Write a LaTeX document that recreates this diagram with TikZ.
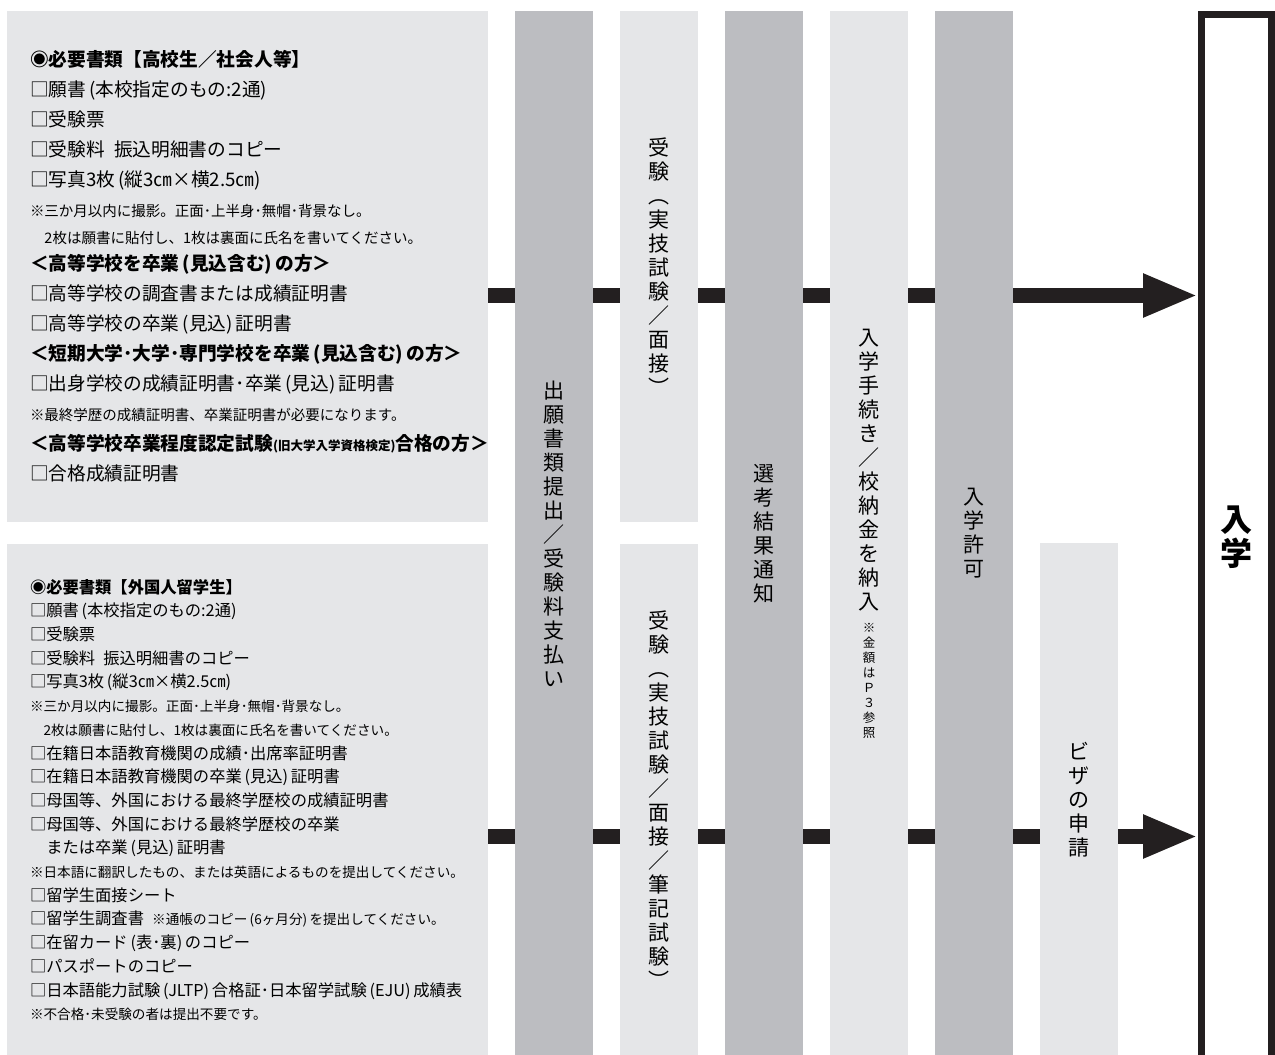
\documentclass[tikz,border=0pt]{standalone}
\usepackage{fontspec}
\setmainfont{Noto Sans CJK JP}
\usepackage{tikz}
\usetikzlibrary{arrows.meta}
\usetikzlibrary{positioning,backgrounds}
\definecolor{ink}{RGB}{35,31,32}
\definecolor{colgray}{RGB}{188,189,193}
\definecolor{boxgray}{RGB}{229,230,232}
\newcommand\chui{\fontsize{14.5}{14.5}\selectfont}
\newcommand\chuiB{\fontsize{13.6}{13.6}\selectfont}
\newcommand\chuisub{\fontsize{12.5}{12.5}\selectfont}
\tikzset{
    docbox/.style={
           rectangle,
           fill=boxgray,
           inner xsep=23pt,
           inner ysep=0pt,
           outer sep=0pt,
           text width=435pt,
           align=left,
           },
    colbox/.style={
           rectangle,
           minimum width=78pt,
           inner sep=0pt,
           outer sep=0pt,
           align=center,
           font=\fontsize{21}{24}\selectfont,
           },
    darkcol/.style={colbox, fill=colgray},
    lightcol/.style={colbox, fill=boxgray},
    enterbox/.style={
           rectangle,
           draw=ink, line width=7pt,
           minimum width=70pt,
           inner sep=0pt,
           align=center,
           font=\fontsize{32}{34}\selectfont\bfseries,
           },
    flow/.style={draw=ink, line width=15pt, -{Triangle[length=55pt,width=40pt]}},
}

\begin{document}
\begin{tikzpicture}[x=1pt,y=-1pt]

    \useasboundingbox (0,0) rectangle (1275,1055);

    % required documents
    \node[docbox, font=\fontsize{18.7}{30}\selectfont, minimum height=511pt]
        (reqA) at (247.5,266.5) {%
        {\bfseries ◉必要書類【高校生／社会人等】}\\
        □願書\,(本校指定のもの:2通)\\
        □受験票\\
        □受験料\enspace 振込明細書のコピー\\
        □写真3枚\,(縦3㎝×横2.5㎝)\\
        {\chui ※三か月以内に撮影。正面･上半身･無帽･背景なし。}\\[-3pt]
        {\chui 　2枚は願書に貼付し、1枚は裏面に氏名を書いてください。}\\[-3pt]
        {\bfseries ＜高等学校を卒業\,(見込含む)\,の方＞}\\
        □高等学校の調査書または成績証明書\\
        □高等学校の卒業\,(見込)\,証明書\\
        {\bfseries ＜短期大学･大学･専門学校を卒業\,(見込含む)\,の方＞}\\
        □出身学校の成績証明書･卒業\,(見込)\,証明書\\
        {\chui ※最終学歴の成績証明書、卒業証明書が必要になります。}\\
        {\bfseries ＜高等学校卒業程度認定試験{\chuisub (旧大学入学資格検定)}合格の方＞}\\
        □合格成績証明書};
    \node[docbox, font=\fontsize{16.3}{23.7}\selectfont, minimum height=512pt]
        (reqB) at (247.5,800) {%
        {\bfseries ◉必要書類【外国人留学生】}\\
        □願書\,(本校指定のもの:2通)\\
        □受験票\\
        □受験料\enspace 振込明細書のコピー\\
        □写真3枚\,(縦3㎝×横2.5㎝)\\
        {\chuiB ※三か月以内に撮影。正面･上半身･無帽･背景なし。}\\
        {\chuiB 　2枚は願書に貼付し、1枚は裏面に氏名を書いてください。}\\
        □在籍日本語教育機関の成績･出席率証明書\\
        □在籍日本語教育機関の卒業\,(見込)\,証明書\\
        □母国等、外国における最終学歴校の成績証明書\\
        □母国等、外国における最終学歴校の卒業\\
        　または卒業\,(見込)\,証明書\\
        {\chuiB ※日本語に翻訳したもの、または英語によるものを提出してください。}\\
        □留学生面接シート\\
        □留学生調査書\enspace{\chuiB ※通帳のコピー\,(6ヶ月分)\,を提出してください。}\\
        □在留カード\,(表･裏)\,のコピー\\
        □パスポートのコピー\\
        □日本語能力試験\,(JLTP)\,合格証･日本留学試験\,(EJU)\,成績表\\
        {\chuiB ※不合格･未受験の者は提出不要です。}};

    % steps
    \node[darkcol, minimum height=1045pt]
        (apply) at (554,533.5) {出\\願\\書\\類\\提\\出\\／\\受\\験\\料\\支\\払\\い};
    \node[lightcol, minimum height=511pt, right=27pt of apply.north east, anchor=north west]
        (examA) {受\\験\\︵\\実\\技\\試\\験\\／\\面\\接\\︶};
    \node[lightcol, minimum height=512pt, right=27pt of apply.south east, anchor=south west]
        (examB) {受\\験\\︵\\実\\技\\試\\験\\／\\面\\接\\／\\筆\\記\\試\\験\\︶};
    \node[darkcol, minimum height=1045pt, right=27pt of examA.north east, anchor=north west]
        (result) {選\\考\\結\\果\\通\\知};
    \node[lightcol, minimum height=1045pt, right=27pt of result.north east, anchor=north west]
        (proc) {入\\学\\手\\続\\き\\／\\校\\納\\金\\を\\納\\入\\[-1pt]
        {\chuisub ※}\\[-9pt]{\chuisub 金}\\[-9pt]{\chuisub 額}\\[-9pt]{\chuisub は}\\[-9pt]
        {\chuisub Ｐ}\\[-9pt]{\chuisub ３}\\[-9pt]{\chuisub 参}\\[-9pt]{\chuisub 照}};
    \node[darkcol, minimum height=1045pt, right=27pt of proc.north east, anchor=north west]
        (permit) {入\\学\\許\\可};
    \node[lightcol, minimum height=513pt, right=27pt of permit.south east, anchor=south west]
        (visa) {ビ\\ザ\\の\\申\\請};

    \node[enterbox, minimum height=1044.5pt]
        (enter) at (1236.5,536.75) {入\\学};

    \coordinate (laneA) at (0,295.5);
    \coordinate (laneB) at (0,836.5);

    \begin{scope}[on background layer]
        \fill[white] (0,0) rectangle (1275,1055);
        \draw[flow] (reqA.east |- laneA) -- (enter.west |- laneA);
        \draw[flow] (reqB.east |- laneB) -- (enter.west |- laneB);
    \end{scope}

\end{tikzpicture}
\end{document}
